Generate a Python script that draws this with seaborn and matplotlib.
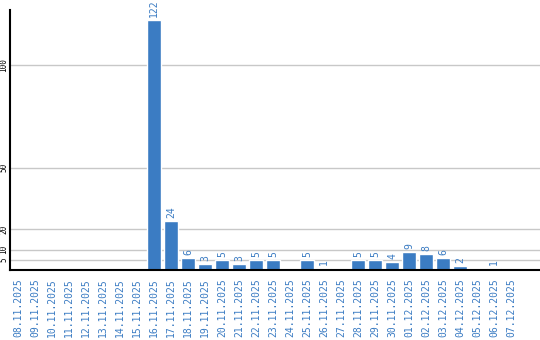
import matplotlib
matplotlib.use("Agg")
import matplotlib.pyplot as plt
import seaborn as sns
import pandas as pd

dates = ["08.11.2025", "09.11.2025", "10.11.2025", "11.11.2025", "12.11.2025",
         "13.11.2025", "14.11.2025", "15.11.2025", "16.11.2025", "17.11.2025",
         "18.11.2025", "19.11.2025", "20.11.2025", "21.11.2025", "22.11.2025",
         "23.11.2025", "24.11.2025", "25.11.2025", "26.11.2025", "27.11.2025",
         "28.11.2025", "29.11.2025", "30.11.2025", "01.12.2025", "02.12.2025",
         "03.12.2025", "04.12.2025", "05.12.2025", "06.12.2025", "07.12.2025"]
values = [0, 0, 0, 0, 0, 0, 0, 0, 122, 24,
          6, 3, 5, 3, 5, 5, 0, 5, 1, 0,
          5, 5, 4, 9, 8, 6, 2, 0, 1, 0]
yticks = [5, 10, 20, 50, 100]

sns.set_style("white")
plt.rcParams['font.family'] = ['DejaVu Sans Mono']

df = pd.DataFrame({"date": dates, "value": values})
bar_color = "#3b7cc3"
text_color = "#3b7cc3"

fig = plt.figure(figsize=(5.4, 3.4), dpi=100)
ax = fig.add_axes([10/540, 70/340, 530/540, 260/340])
sns.barplot(data=df, x="date", y="value", color=bar_color, width=0.82,
            saturation=1, ax=ax, zorder=3)

ax.set_ylim(0, 127)
ax.set_xlim(-0.47, 30.7)
ax.set_yticks(yticks)
ax.set_yticklabels([str(t) for t in yticks], rotation=90, va="center",
                   fontsize=5.5, color="black")
ax.yaxis.grid(True, color="#c8c8c8", linewidth=1, zorder=0)
ax.xaxis.grid(False)
ax.tick_params(axis="y", length=0, pad=1)
ax.tick_params(axis="x", length=0, pad=6)
ax.set_xticks(range(len(dates)))
ax.set_xticklabels(dates, rotation=90, fontsize=7, color=text_color)
ax.set_xlabel("")
ax.set_ylabel("")
for s in ["top", "right"]:
    ax.spines[s].set_visible(False)
for s in ["left", "bottom"]:
    ax.spines[s].set_color("black")
    ax.spines[s].set_linewidth(1.5)
ax.spines["bottom"].set_zorder(5)

for i, v in enumerate(values):
    if v > 0:
        ax.annotate(str(v), (i, v), xytext=(0, 2), textcoords="offset points",
                    rotation=90, ha="center", va="bottom", fontsize=7,
                    color=text_color)

fig.savefig("out.png", dpi=100)
